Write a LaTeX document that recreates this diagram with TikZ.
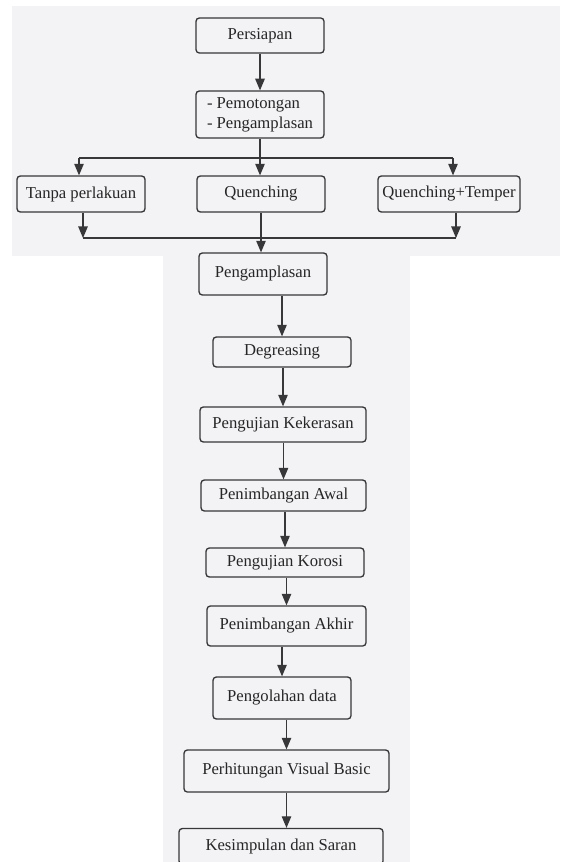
\documentclass[tikz,border=0pt]{standalone}
\usepackage{fontspec}
\setmainfont{Liberation Serif}
\usepackage{tikz}
\usetikzlibrary{arrows}
\usetikzlibrary{calc, positioning}
\usepackage{xcolor}
\definecolor{scanbg}{RGB}{243,243,246}
\definecolor{inkline}{RGB}{55,55,58}

\begin{document}
\begin{tikzpicture}[x=0.75pt, y=-0.75pt,
        flowbox/.style={draw=inkline, line width=1pt, rounded corners=2.5pt, inner sep=2pt,
                        font=\fontsize{12.5}{15}\selectfont, text=black!85},
        flowarrow/.style={draw=inkline, line width=1pt, -triangle 45},
        flowline/.style={draw=inkline, line width=1pt}]
        \useasboundingbox (0, 0) rectangle (560, 862);
        \clip (0, 0) rectangle (560, 862);

        % latar hasil pindaian
        \fill[scanbg] (12, 6) rectangle (560, 256);
        \fill[scanbg] (163, 256) rectangle (410, 862);

        \node[flowbox, minimum width=96pt, minimum height=26.25pt] (persiapan) at (260, 35.5) {Persiapan};
        \node[flowbox, minimum width=96pt, minimum height=35.25pt, align=left] (potong) at (260, 114.5) {- Pemotongan\\- Pengamplasan};

        \node[flowbox, minimum width=96pt, minimum height=27pt] (tanpa) at (81, 194) {Tanpa perlakuan};
        \node[flowbox, minimum width=96pt, minimum height=27pt] (quench) at (261, 194) {Quenching};
        \node[flowbox, minimum width=106.5pt, minimum height=27pt] (temper) at (449, 194) {Quenching+Temper};

        \node[flowbox, minimum width=96pt, minimum height=31.5pt] (amplas) at (263, 274) {Pengamplasan};
        \node[flowbox, minimum width=103.5pt, minimum height=22.5pt] (degreasing) at (282, 352) {Degreasing};
        \node[flowbox, minimum width=124.5pt, minimum height=26.25pt] (kekerasan) at (283, 424.5) {Pengujian Kekerasan};
        \node[flowbox, minimum width=123.75pt, minimum height=23.25pt] (awal) at (283.5, 495.5) {Penimbangan Awal};
        \node[flowbox, minimum width=118.5pt, minimum height=21.75pt] (korosi) at (285, 562.5) {Pengujian Korosi};
        \node[flowbox, minimum width=119.25pt, minimum height=30pt] (akhir) at (286.5, 626) {Penimbangan Akhir};
        \node[flowbox, minimum width=103.5pt, minimum height=31.5pt] (olah) at (282, 698) {Pengolahan data};
        \node[flowbox, minimum width=153.75pt, minimum height=31.5pt] (visual) at (286.5, 771) {Perhitungan Visual Basic};
        \node[flowbox, minimum width=153pt, minimum height=27pt] (simpulan) at (281, 846.5) {Kesimpulan dan Saran};

        % cabang ke tiga perlakuan
        \coordinate (splitL) at (79, 158);
        \coordinate (splitR) at (453, 158);
        \draw[flowarrow] (persiapan) -- (potong);
        \draw[flowline] (potong.south) -- (potong.south |- splitL);
        \draw[flowline] (splitL) -- (splitR);
        \draw[flowarrow] (splitL) -- (splitL |- tanpa.north);
        \draw[flowarrow] (potong.south |- splitL) -- (potong.south |- quench.north);
        \draw[flowarrow] (splitR) -- (splitR |- temper.north);

        % gabung kembali
        \coordinate (mergeL) at (83, 238);
        \coordinate (mergeR) at (456, 238);
        \draw[flowarrow] (mergeL |- tanpa.south) -- (mergeL);
        \draw[flowarrow] (mergeR |- temper.south) -- (mergeR);
        \draw[flowline] (mergeL) -- (mergeR);
        \draw[flowarrow] (quench.south) -- (quench.south |- amplas.north);

        % alur utama ke bawah
        \draw[flowarrow] (amplas.south -| degreasing) -- (degreasing.north);
        \draw[flowarrow] (degreasing.south -| kekerasan) -- (kekerasan.north);
        \draw[flowarrow] (kekerasan.south -| awal) -- (awal.north);
        \draw[flowarrow] (awal.south -| korosi) -- (korosi.north);
        \draw[flowarrow] (korosi.south -| akhir) -- (akhir.north);
        \draw[flowarrow] (akhir.south -| olah) -- (olah.north);
        \draw[flowarrow] (olah.south -| visual) -- (visual.north);
        \draw[flowarrow] (visual.south) -- (visual.south |- simpulan.north);

\end{tikzpicture}
\end{document}
